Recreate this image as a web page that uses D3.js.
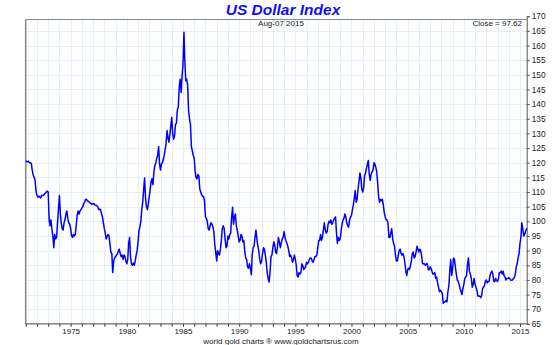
<!DOCTYPE html>
<html>
<head>
<meta charset="utf-8">
<script src="https://cdn.jsdelivr.net/npm/d3@7"></script>
<style>
  html, body { margin: 0; padding: 0; background: #fff; }
  svg { display: block; }
  text { font-family: "Liberation Sans", Arial, sans-serif; }
</style>
</head>
<body>
<svg id="chart" width="553" height="345"></svg>
<script>
// US Dollar Index, monthly closes, Jan 1971 – Aug 2015
const startYear = 1971;
const lastDate = new Date(2015, 7, 7);
const closeLabel = "Close = 97.62";
const dateLabel = "Aug-07  2015";

const dxy1970s = [
  120.6, 120.4, 120.3, 120.5, 120.0, 120.0, 119.8, 117.5, 115.8, 115.1, 114.0, 110.5, // 1971
  108.9, 108.2, 108.6, 108.3, 108.0, 108.9, 108.8, 108.9, 109.3, 109.6, 110.0, 110.3, // 1972
  110.0, 100.5, 98.5, 100.5, 97.5, 95.0, 91.0, 95.5, 94.0, 94.5, 99.5, 104.0,          // 1973
  108.8, 102.5, 99.5, 97.5, 97.0, 99.5, 100.5, 102.5, 103.5, 101.0, 99.5, 99.0,       // 1974
  97.5, 95.0, 94.5, 95.5, 95.0, 95.5, 98.5, 102.0, 103.5, 102.5, 103.5, 104.0,        // 1975
  104.5, 105.0, 106.0, 106.5, 107.5, 107.5, 107.0, 106.8, 106.5, 106.2, 106.0, 105.8, // 1976
  106.0, 106.0, 105.6, 105.5, 105.3, 105.0, 104.0, 104.2, 104.0, 102.5, 101.5, 99.5,  // 1977
  97.5, 96.0, 94.0, 94.8, 95.5, 95.0, 92.5, 89.5, 89.0, 82.5, 86.5, 87.5,             // 1978
  88.0, 88.5, 88.8, 90.0, 90.5, 89.0, 88.0, 88.5, 87.0, 88.5, 88.0, 86.5              // 1979
];
const dxy1980s = [
  85.5, 87.0, 92.5, 94.5, 88.0, 85.5, 85.0, 85.8, 85.0, 86.5, 88.5, 90.0,             // 1980
  93.0, 97.0, 98.0, 100.0, 104.0, 106.5, 110.5, 114.8, 108.0, 105.0, 104.0, 106.0,    // 1981
  108.5, 111.0, 113.5, 114.5, 112.5, 117.0, 119.0, 120.0, 121.5, 122.5, 125.5, 119.5, // 1982
  117.5, 119.5, 120.0, 121.0, 122.5, 124.5, 126.5, 131.0, 128.5, 127.0, 129.5, 132.5, // 1983
  135.5, 130.0, 128.0, 129.0, 133.0, 133.5, 138.0, 139.0, 146.0, 148.5, 144.0, 149.5, // 1984
  153.5, 164.5, 155.0, 148.0, 148.5, 146.5, 138.0, 135.0, 133.0, 125.5, 124.0, 122.5, // 1985
  121.5, 117.0, 115.0, 114.5, 116.0, 115.5, 111.0, 110.0, 109.0, 108.5, 108.5, 107.0, // 1986
  101.5, 101.0, 100.0, 97.5, 97.0, 98.5, 99.5, 99.0, 98.0, 96.5, 92.0, 89.5,          // 1987
  86.5, 90.0, 89.0, 88.5, 90.5, 93.5, 97.5, 98.5, 97.5, 94.0, 91.0, 91.5,             // 1988
  95.0, 94.0, 95.5, 96.0, 101.5, 104.8, 99.0, 101.5, 102.5, 98.5, 97.0, 95.0          // 1989
];
const dxy1990s = [
  93.0, 93.5, 95.5, 95.0, 93.0, 93.5, 90.0, 87.5, 87.0, 84.5, 84.0, 85.5,             // 1990
  84.0, 81.8, 88.5, 91.0, 91.5, 94.5, 97.0, 94.0, 91.5, 90.0, 87.0, 85.5,             // 1991
  86.5, 89.0, 91.0, 90.5, 88.5, 86.0, 82.5, 80.5, 79.3, 82.5, 88.0, 88.5,             // 1992
  91.0, 93.0, 92.0, 89.5, 89.0, 91.5, 94.5, 93.0, 91.0, 92.5, 94.0, 94.5,             // 1993
  96.5, 94.5, 93.5, 92.5, 91.5, 90.0, 88.0, 88.5, 87.5, 86.0, 87.0, 88.5,             // 1994
  87.0, 85.0, 81.5, 81.0, 82.5, 82.0, 82.5, 85.5, 85.0, 83.5, 84.0, 84.5,             // 1995
  86.0, 85.5, 86.0, 87.0, 87.5, 87.5, 86.5, 86.0, 87.0, 88.0, 88.0, 88.5,             // 1996
  91.0, 93.5, 93.5, 95.5, 93.5, 94.5, 97.0, 99.5, 97.0, 96.0, 96.5, 99.0,             // 1997
  100.0, 99.5, 100.5, 99.0, 99.5, 100.5, 101.0, 101.5, 96.0, 92.5, 94.5, 93.5,        // 1998
  94.0, 97.0, 99.0, 100.5, 101.0, 102.5, 101.5, 99.5, 98.5, 98.0, 100.5, 101.5        // 1999
];
const dxy2000s = [
  102.0, 104.0, 105.5, 108.0, 110.5, 106.5, 107.5, 111.0, 113.5, 116.5, 115.0, 111.0, // 2000
  110.0, 111.5, 115.5, 116.5, 118.0, 119.5, 120.8, 116.0, 114.0, 116.0, 117.0, 117.5,  // 2001
  120.0, 119.5, 118.5, 117.0, 113.0, 108.5, 106.5, 107.5, 107.0, 107.5, 105.5, 103.0,  // 2002
  101.5, 100.5, 100.5, 99.5, 94.5, 94.5, 96.0, 97.5, 94.0, 92.5, 91.5, 88.5,           // 2003
  86.5, 86.5, 88.5, 90.0, 90.5, 89.0, 88.5, 89.0, 88.0, 86.0, 83.0, 81.5,              // 2004
  83.5, 84.0, 83.5, 85.0, 86.5, 89.0, 89.5, 87.5, 88.0, 89.5, 91.5, 90.5,              // 2005
  89.5, 90.5, 90.0, 88.0, 85.5, 85.5, 85.5, 85.0, 85.5, 85.5, 83.5, 83.5,              // 2006
  84.5, 84.0, 83.0, 82.0, 82.0, 82.5, 80.5, 81.0, 79.0, 77.5, 76.0, 76.5,              // 2007
  76.0, 75.5, 72.0, 72.5, 72.5, 73.0, 72.5, 76.0, 78.0, 83.0, 87.0, 81.5,              // 2008
  84.0, 87.5, 87.0, 84.5, 82.0, 80.0, 79.5, 78.5, 77.0, 76.0, 75.0, 77.0               // 2009
];
const dxy2010s = [
  78.5, 80.5, 81.0, 81.5, 85.5, 87.5, 83.0, 82.0, 80.5, 77.5, 78.5, 80.5,             // 2010
  78.5, 77.5, 76.5, 74.5, 74.5, 74.5, 74.0, 74.5, 77.0, 77.5, 78.0, 79.5,             // 2011
  80.0, 79.0, 79.5, 79.5, 81.5, 82.5, 83.0, 82.0, 79.5, 79.5, 80.5, 79.8,             // 2012
  79.5, 80.5, 82.5, 82.5, 83.0, 82.0, 83.0, 81.5, 81.0, 80.0, 80.5, 80.5,             // 2013
  80.8, 80.5, 80.0, 79.9, 80.0, 80.5, 80.8, 82.0, 84.5, 85.5, 87.5, 89.0,             // 2014
  92.5, 94.5, 99.5, 97.5, 95.0, 95.5, 96.5, 97.62                                      // 2015
];

const yTicks = d3.range(65, 171, 5);
const yearTicks = d3.range(1971, 2016);
const yearLabels = [1975, 1980, 1985, 1990, 1995, 2000, 2005, 2010, 2015];

const closes = [].concat(dxy1970s, dxy1980s, dxy1990s, dxy2000s, dxy2010s);
const series = closes.map((v, i) => ({
  date: i === closes.length - 1 ? lastDate : new Date(startYear, i, 1),
  value: v
}));

// plot frame; the value axis runs a little above the framed area
const plotLeft = 25.7, plotRight = 526.7, frameTop = 19.5, axisTop = 16.2, plotBottom = 323.9;

const svg = d3.select("#chart");

const x = d3.scaleTime()
  .domain([new Date(startYear, 0, 1), lastDate])
  .range([plotLeft, plotRight]);
const y = d3.scaleLinear()
  .domain([65, 170])
  .range([plotBottom, axisTop]);

// grid
const grid = svg.append("g").attr("stroke", "#e3f0f9").attr("stroke-width", 1);
grid.selectAll("line.v").data(yearTicks.slice(1)).join("line")
  .attr("class", "v")
  .attr("x1", d => Math.round(x(new Date(d, 0, 1))) + 0.5)
  .attr("x2", d => Math.round(x(new Date(d, 0, 1))) + 0.5)
  .attr("y1", frameTop).attr("y2", plotBottom);
grid.selectAll("line.h").data(yTicks.slice(1, -1)).join("line")
  .attr("class", "h")
  .attr("x1", plotLeft).attr("x2", plotRight)
  .attr("y1", d => Math.round(y(d)) + 0.5)
  .attr("y2", d => Math.round(y(d)) + 0.5);

// frame: left and top edges
svg.append("line").attr("x1", plotLeft).attr("x2", plotLeft).attr("y1", frameTop).attr("y2", plotBottom)
  .attr("stroke", "#8a8a8a").attr("stroke-width", 1.6);
svg.append("line").attr("x1", plotLeft).attr("x2", plotRight).attr("y1", frameTop).attr("y2", frameTop)
  .attr("stroke", "#8a8a8a").attr("stroke-width", 1.2);

// price line
const line = d3.line()
  .x(d => x(d.date))
  .y(d => y(d.value));
svg.append("path")
  .datum(series)
  .attr("fill", "none")
  .attr("stroke", "#0000ff")
  .attr("stroke-width", 1.5)
  .attr("stroke-linejoin", "round")
  .attr("d", line);

// right value axis
const yAxis = d3.axisRight(y).tickValues(yTicks).tickSize(3).tickPadding(2);
const ya = svg.append("g").attr("transform", `translate(${plotRight},0)`).call(yAxis);
ya.select(".domain").attr("stroke", "#555");
ya.selectAll(".tick line").attr("stroke", "#555");
ya.selectAll("text").attr("font-size", 8.3).attr("fill", "#222")
  .attr("font-family", "'Liberation Sans', Arial, sans-serif");

// bottom year axis
const xAxis = d3.axisBottom(x)
  .tickValues(yearTicks.map(yr => new Date(yr, 0, 1)))
  .tickSize(3)
  .tickPadding(1)
  .tickFormat(d => yearLabels.includes(d.getFullYear()) ? d.getFullYear() : "");
const xa = svg.append("g").attr("transform", `translate(0,${plotBottom})`).call(xAxis);
xa.select(".domain").attr("stroke", "#444").attr("d", `M${plotLeft},0H${plotRight}`);
xa.selectAll(".tick line").attr("stroke", "#444");
xa.selectAll("text").attr("font-size", 8).attr("fill", "#222")
  .attr("font-family", "'Liberation Sans', Arial, sans-serif");

// titles and captions
svg.append("text")
  .attr("x", 283).attr("y", 15)
  .attr("text-anchor", "middle")
  .attr("font-size", 15.5).attr("font-weight", "bold").attr("font-style", "italic")
  .attr("fill", "#1010f0")
  .text("US Dollar Index");
svg.append("text")
  .attr("x", 281).attr("y", 26)
  .attr("text-anchor", "middle")
  .attr("font-size", 8).attr("fill", "#222")
  .text(dateLabel);
svg.append("text")
  .attr("x", 522).attr("y", 26)
  .attr("text-anchor", "end")
  .attr("font-size", 8).attr("fill", "#222")
  .text(closeLabel);
svg.append("text")
  .attr("x", 281).attr("y", 344)
  .attr("text-anchor", "middle")
  .attr("font-size", 8).attr("fill", "#222")
  .text("world gold charts \u00ae www.goldchartsrus.com");
</script>
</body>
</html>
